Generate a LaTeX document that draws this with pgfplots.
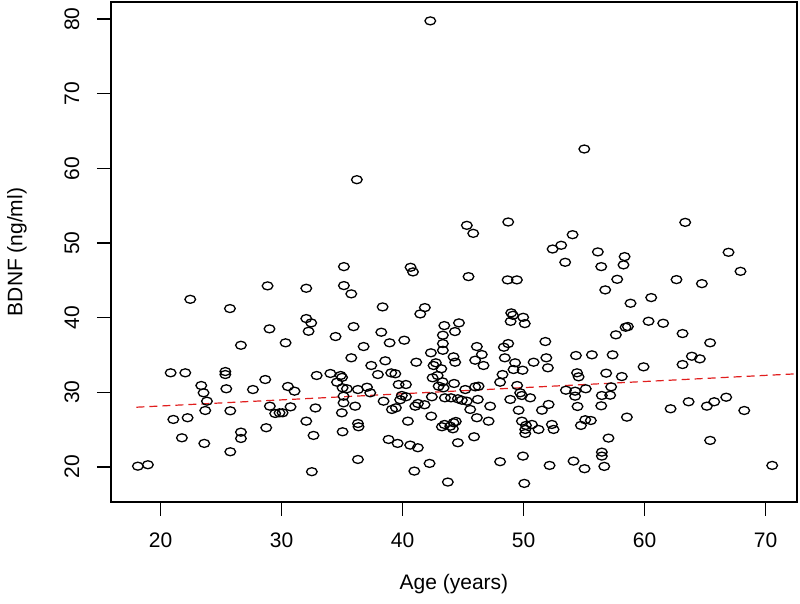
\documentclass[border=0pt]{standalone}
\usepackage{fontspec}
\setmainfont{Liberation Sans}
\usepackage{pgfplots}
\pgfplotsset{compat=1.18}
\begin{document}
\begin{tikzpicture}[x=1pt,y=1pt]
\path[use as bounding box] (-55.5,-51) rectangle (344.5,251);
\begin{axis}[
  at={(0,0)}, anchor=south west,
  scale only axis, width=343pt, height=250pt,
  xmin=15.9, xmax=72.6, ymin=15.3, ymax=82.3,
  xtick={20,30,40,50,60,70}, ytick={20,30,40,50,60,70,80},
  tick align=outside, major tick length=7pt,
  xtick pos=bottom, ytick pos=left,
  axis line style={line width=0.7pt, black},
  tick style={line width=0.7pt, black},
  /pgf/number format/assume math mode=true,
  every tick label/.append style={font=\fontsize{10.5}{12}\selectfont},
  xticklabel style={anchor=center, yshift=-12pt},
  yticklabel style={rotate=90, anchor=center, yshift=12.5pt},
  xlabel={Age (years)}, ylabel={BDNF (ng/ml)},
  label style={font=\fontsize{10.5}{12}\selectfont},
  xlabel style={at={(axis description cs:0.5,0)}, anchor=center, yshift=-41pt},
  ylabel style={at={(axis description cs:0,0.5)}, anchor=center, yshift=47pt},
]
\addplot[only marks, mark=o, mark size=2pt, mark options={xscale=1.33, line width=0.65pt, black}] table {
x y
42.29 79.77
36.22 58.49
55.02 62.6
22.45 42.46
25.73 41.22
28.84 44.26
32.04 43.94
29.0 38.5
32.04 39.88
32.45 39.3
32.23 38.18
30.33 36.63
26.64 36.3
45.31 52.37
45.84 51.3
48.73 52.82
52.4 49.2
35.15 46.84
40.66 46.75
40.86 46.13
45.45 45.5
48.68 45.06
49.45 45.06
35.15 44.3
35.76 43.19
38.35 41.44
41.84 41.35
41.46 40.5
48.98 40.64
49.12 40.32
48.93 39.5
49.97 40.05
50.1 39.2
51.8 36.8
48.73 36.53
48.37 36.04
35.95 38.8
34.46 37.47
36.78 36.13
38.24 38.05
38.93 36.63
40.14 36.98
43.45 38.94
44.66 39.3
44.33 38.14
43.33 37.65
43.33 36.53
46.14 36.13
54.05 51.12
53.11 49.7
53.44 47.42
63.36 52.77
56.14 48.81
58.35 48.18
58.26 47.07
56.42 46.84
57.74 45.14
56.75 43.72
62.64 45.1
64.74 44.56
66.94 48.76
67.93 46.21
58.84 41.93
60.55 42.69
60.33 39.52
61.54 39.25
58.62 38.81
58.43 38.72
57.63 37.7
63.14 37.87
65.42 36.63
20.83 32.61
22.04 32.61
25.35 32.78
25.35 32.38
23.36 30.91
23.55 29.93
23.83 28.81
23.69 27.56
25.43 30.47
25.76 27.52
27.63 30.37
28.65 31.71
30.52 30.78
31.07 30.15
29.03 28.14
29.47 27.16
29.83 27.25
30.08 27.25
30.74 28.05
32.9 32.25
32.8 27.9
21.05 26.36
22.23 26.59
26.64 24.66
26.64 23.81
28.73 25.25
32.04 26.13
32.64 24.22
21.76 23.9
23.61 23.15
25.76 22.03
18.12 20.1
18.95 20.29
32.5 19.36
43.33 35.63
46.55 35.06
35.76 34.62
37.41 33.59
38.57 34.22
41.13 34.03
42.34 35.29
42.56 33.59
42.75 33.95
43.2 33.15
44.21 34.75
44.35 34.03
46.0 34.3
46.69 33.59
48.45 34.62
49.3 33.95
49.17 33.05
49.92 32.96
50.83 34.03
51.88 34.62
52.01 33.28
34.03 32.52
34.88 32.25
35.0 32.0
34.58 31.35
35.04 30.6
35.4 30.47
36.31 30.37
37.06 30.68
37.96 32.38
39.06 32.6
39.4 32.48
39.67 31.04
40.28 31.04
42.48 31.94
42.9 32.25
43.3 31.4
43.39 30.6
44.26 31.18
42.98 30.82
45.18 30.37
46.0 30.73
46.28 30.82
48.06 31.35
48.26 32.38
49.47 30.91
49.72 29.93
35.12 28.59
34.98 27.25
36.08 28.14
35.12 29.48
37.33 29.93
38.43 28.81
39.12 27.7
39.45 27.92
39.8 29.0
39.94 29.57
40.28 29.4
41.05 28.14
41.27 28.5
41.82 28.33
42.42 29.4
42.37 26.8
43.5 29.26
44.0 29.26
44.57 29.13
44.9 28.94
45.31 28.81
46.22 29.04
45.59 27.7
46.14 26.59
47.24 28.14
47.11 26.13
48.9 29.04
49.86 29.57
50.55 29.26
49.59 27.6
51.52 27.6
52.07 28.37
35.04 24.71
36.31 25.82
36.36 25.38
40.44 26.13
43.25 25.38
43.47 25.69
43.94 25.46
44.21 25.92
44.4 26.09
44.16 25.11
45.91 24.04
49.86 26.13
50.2 25.56
50.14 25.02
50.69 25.69
51.24 25.02
52.34 25.69
52.48 25.02
50.14 24.48
38.84 23.68
39.59 23.15
40.63 22.92
41.26 22.57
44.57 23.24
36.31 21.0
42.23 20.47
40.97 19.44
43.74 17.97
48.06 20.7
49.95 21.45
52.15 20.2
50.06 17.79
54.33 34.93
55.65 35.02
57.36 35.02
59.92 33.41
63.14 33.72
63.91 34.83
64.57 34.48
54.42 32.61
54.55 32.07
56.83 32.56
58.12 32.11
53.5 30.28
54.26 30.15
54.26 29.48
55.14 30.47
56.47 29.57
57.16 29.61
57.24 30.73
54.46 28.1
56.42 28.19
58.54 26.67
55.1 26.32
55.56 26.22
54.74 25.56
62.15 27.79
63.64 28.73
65.15 28.14
65.76 28.73
66.75 29.34
68.24 27.56
65.42 23.55
57.02 23.86
56.47 21.98
56.47 21.45
54.13 20.78
55.04 19.76
56.67 20.07
70.55 20.2
};
\addplot[color={rgb,255:red,225;green,30;blue,30}, dash pattern=on 4pt off 2.5pt, line width=0.6pt] coordinates {(18,28.0) (72.6,32.48)};
\end{axis}
\end{tikzpicture}
\end{document}
